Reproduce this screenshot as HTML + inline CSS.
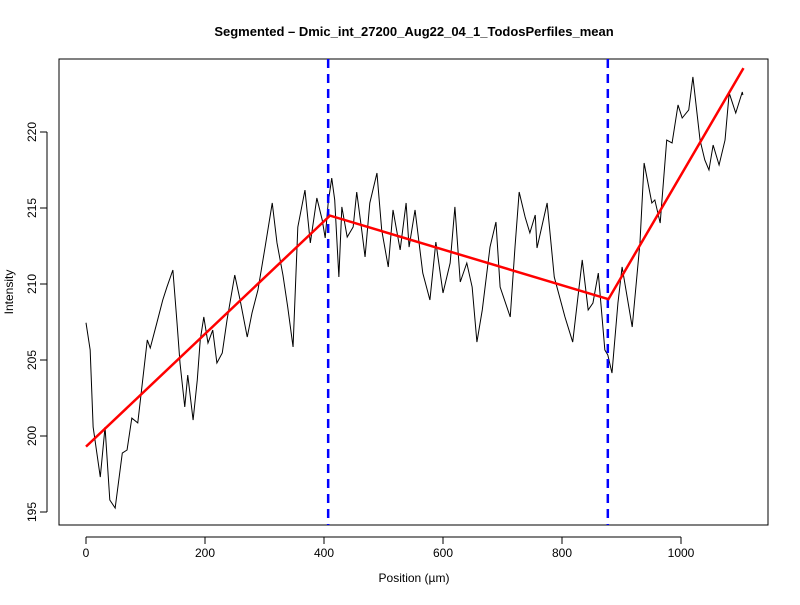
<!DOCTYPE html>
<html><head><meta charset="utf-8"><style>
body{margin:0;background:#fff}
svg text{font-family:"Liberation Sans",Arial,sans-serif}
</style></head><body>
<svg id="c" width="800" height="600" xmlns="http://www.w3.org/2000/svg">
<rect width="800" height="600" fill="#fff"/>
<text x="414" y="36" text-anchor="middle" font-size="13" font-weight="bold">Segmented – Dmic_int_27200_Aug22_04_1_TodosPerfiles_mean</text>
<rect x="59" y="59" width="709" height="466" fill="none" stroke="#000"/>
<text x="414" y="582" text-anchor="middle" font-size="12">Position (µm)</text>
<text transform="translate(13,292) rotate(-90)" text-anchor="middle" font-size="12">Intensity</text>
<g id="g"></g>
</svg>
<script>
const xs=[0,7,12,24,32,40,49,61,69,77,87,103,108,119,129,136,146,153,158,166,171,180,187,192,198,205,213,220,229,237,250,259,271,279,289,301,313,321,331,339,348,356,368,377,388,397,402,407,413,418,425,430,439,449,455,464,469,477,489,497,508,516,528,538,543,553,566,578,588,600,612,620,629,640,649,657,666,679,689,696,713,721,728,738,746,755,758,775,787,805,818,834,844,852,861,872,877,884,894,901,918,931,938,951,956,965,976,985,995,1002,1013,1020,1032,1040,1047,1054,1064,1074,1081,1092,1103,1104];
const ys=[207.45,205.66,200.59,197.30,200.59,195.79,195.26,198.88,199.08,201.18,200.86,206.32,205.79,207.43,208.95,209.80,210.92,207.43,204.80,201.91,204.01,201.05,203.68,206.32,207.83,206.12,206.97,204.80,205.46,207.63,210.59,208.95,206.51,208.09,209.61,212.43,215.33,212.70,210.59,208.49,205.86,213.75,216.18,212.70,215.66,214.21,213.03,215.33,216.97,215.53,210.46,215.07,213.09,213.75,216.05,213.36,211.78,215.33,217.30,213.55,211.12,214.87,212.24,215.33,212.43,214.87,210.72,208.95,212.76,209.41,211.38,215.07,210.13,211.38,209.80,206.18,208.29,212.43,214.08,209.80,207.83,212.43,216.05,214.41,213.36,214.54,212.37,215.33,210.46,207.83,206.18,211.58,208.29,208.75,210.72,205.66,205.33,204.14,208.75,211.12,207.17,212.70,217.96,215.33,215.53,214.01,219.47,219.28,221.78,220.92,221.45,223.62,219.47,218.16,217.50,219.14,217.83,219.47,222.57,221.25,222.63,222.43];
const fitX=[0,410,878,1105];
const fitY=[199.3,214.5,209.0,224.2];
const breaks=[407,877];
const xTicks=[0,200,400,600,800,1000];
const yTicks=[195,200,205,210,215,220];
const sx=v=>86+v*0.595, sy=v=>132+(220-v)*15.2;
const g=document.getElementById('g'),NS='http://www.w3.org/2000/svg';
function mk(t,a){const e=document.createElementNS(NS,t);for(const k in a)e.setAttribute(k,a[k]);g.appendChild(e);return e;}
let e=mk('line',{x1:sx(0),x2:sx(1000),y1:537,y2:537,stroke:'#000'});


xTicks.forEach(t=>{let l=mk('line',{x1:sx(t),x2:sx(t),y1:537,y2:544,stroke:'#000'});


let tx=mk('text',{x:sx(t),y:557,'text-anchor':'middle','font-size':12});tx.textContent=t;

});
e=mk('line',{x1:47,x2:47,y1:sy(195),y2:sy(220),stroke:'#000'});


yTicks.forEach(t=>{let l=mk('line',{x1:40,x2:47,y1:sy(t),y2:sy(t),stroke:'#000'});


let tx=mk('text',{transform:`translate(36,${sy(t)}) rotate(-90)`,'text-anchor':'middle','font-size':12});tx.textContent=t;

});
let p=mk('polyline',{points:xs.map((x,i)=>sx(x)+','+sy(ys[i])).join(' '),fill:'none',stroke:'#000','stroke-width':1});


breaks.forEach(b=>{let l=mk('line',{x1:sx(b),x2:sx(b),y1:59,y2:525,stroke:'#0000ff','stroke-width':2.5,'stroke-dasharray':'9,6'});

});
let f=mk('polyline',{points:fitX.map((x,i)=>sx(x)+','+sy(fitY[i])).join(' '),fill:'none',stroke:'#ff0000','stroke-width':2.5});


</script>
</body></html>
